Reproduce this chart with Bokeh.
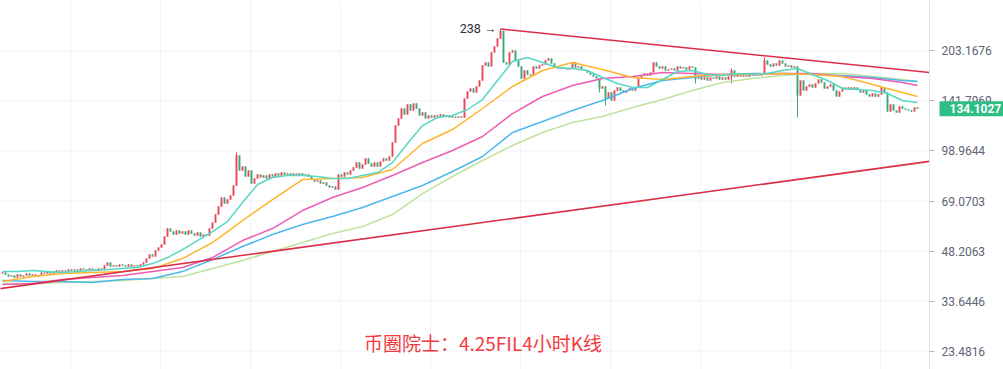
import math
from bokeh.plotting import figure
from bokeh.models import Range1d, FixedTicker, PrintfTickFormatter, Label, ColumnDataSource, Grid
from bokeh.embed import file_html
from bokeh.resources import INLINE

# ---------------- data ----------------
closes = [
    41.28, 40.70, 40.11, 40.40, 39.83, 40.70, 40.11, 40.40, 40.99, 40.40,
    40.70, 40.11, 40.40, 41.28, 40.99, 41.58, 40.99, 41.28, 41.88, 41.58,
    41.88, 41.58, 42.18, 41.88, 42.18, 41.88, 42.48, 42.18, 41.88, 42.48,
    42.18, 41.88, 42.48, 42.18, 43.41, 44.36, 43.10, 43.41, 43.10, 43.72,
    43.41, 43.10, 43.72, 43.10, 43.41, 43.10, 43.72,
    44.36, 45.65, 46.99, 46.32, 48.36, 49.41, 50.50, 53.49, 56.66, 55.45,
    54.27, 55.85, 54.66, 55.45, 54.27, 55.85, 54.66, 53.88, 55.05, 53.49,
    54.27, 53.88, 56.66, 59.15, 62.66, 66.37, 70.81, 67.82, 69.80, 71.84,
    77.20,
    95.81, 86.00, 88.51, 82.37, 86.00, 78.32, 81.19, 83.56, 81.78, 82.96,
    81.19, 83.56, 82.37, 84.16, 82.96, 84.77, 83.56, 84.16, 82.96, 84.16,
    83.56, 84.16, 82.96, 83.56, 82.37, 80.61, 79.46, 80.03, 78.32, 78.89,
    77.20, 76.09, 76.64, 75.01, 83.56, 82.37, 84.77, 83.56, 86.00, 87.88,
    91.10, 87.25, 89.80, 93.76, 90.45, 88.51, 91.10, 88.51, 91.76, 93.76,
    92.42, 95.13, 105.18,
    118.85, 124.99, 134.32, 128.65, 138.26, 132.40, 139.26, 134.32, 127.72, 130.51,
    124.99, 127.72, 125.89, 127.72, 126.81, 128.65, 126.81, 127.72, 125.89, 126.81,
    125.89, 126.81, 125.89, 144.36, 151.80, 155.12, 150.72, 157.36, 164.30, 183.07,
    186.99, 181.75, 200.99, 209.85, 222.28,
    234.50, 186.99, 184.32, 200.99, 203.90, 189.70, 181.75, 166.68, 176.60, 171.59,
    170.36, 181.75, 179.16, 183.07, 184.32, 189.70, 192.45, 185.65, 181.75, 179.16,
    180.45, 179.16, 177.88, 179.16, 186.99, 180.45, 181.75, 177.88, 176.60, 174.08,
    171.59, 169.14, 166.68,
    155.12, 157.36, 144.36, 150.72, 142.30, 152.90, 156.24, 152.90, 150.72, 152.90,
    155.12, 152.90, 156.24, 166.68, 170.36, 172.83, 170.36, 174.08, 186.99, 181.75,
    179.16, 181.75, 176.60, 177.88, 179.16, 176.60, 181.75, 179.16, 180.45, 177.88,
    181.75, 180.45,
    166.68, 170.36, 165.49, 167.88, 164.30, 167.88, 166.68, 169.10, 165.49, 167.88,
    165.49, 169.10, 176.60, 169.10, 171.59, 169.10, 170.36, 169.10, 171.59, 170.36,
    172.83, 170.36, 171.59, 189.70, 184.32, 181.75, 185.65, 183.07, 189.70, 185.65,
    181.75, 183.07, 180.45, 181.75,
    147.50, 164.30, 152.90, 157.36, 159.64, 156.24, 160.79, 165.49, 161.95, 155.12,
    157.36, 159.64, 152.90, 146.44, 151.80, 156.24, 154.00, 156.24, 154.00, 156.24,
    154.00, 150.72, 152.90, 148.56, 146.44, 149.64, 146.44, 148.56, 156.24, 150.72,
    131.45, 138.26, 132.40, 130.51, 136.29, 134.32, 133.36, 132.40, 131.45, 135.31,
    134.1027,
]
first_open = 41.0

wick_index = [78, 166, 199, 201, 231, 243, 254, 265]
wick_high = [97.90, 238.0, 166.68, 157.36, 180.45, 179.16, 193.84, 181.75]
wick_low = [77.20, 222.28, 150.72, 137.27, 160.79, 160.79, 171.59, 125.89]

ma_fast_index = list(range(0, 306, 5))
ma_fast = [
    41.58, 41.58, 41.88, 41.58, 41.28, 41.58, 41.88, 42.18, 42.48, 42.79,
    44.04, 45.99, 48.71, 51.97, 55.45, 59.58, 68.31, 77.76, 81.78, 82.96,
    82.96, 82.37, 81.19, 81.19, 82.96, 84.77, 91.10, 104.42, 118.85, 125.90,
    127.72, 133.38, 143.32, 164.30, 188.34, 193.89, 186.99, 180.39, 179.10, 176.60,
    167.93, 160.79, 156.23, 156.23, 165.53, 175.33, 176.60, 171.59, 170.36, 172.83,
    171.59, 172.83, 176.60, 179.10, 171.59, 164.30, 155.12, 154.00, 152.90, 149.64,
    142.30, 140.27,
]

ma_slow_index = list(range(0, 301, 10)) + [305]
ma_orange = [
    38.69, 40.11, 40.99, 41.28, 41.58, 42.48, 45.66, 51.23, 60.01, 69.80,
    80.61, 81.19, 81.78, 86.63, 104.42, 115.48, 134.35, 157.36, 176.60, 186.99,
    177.81, 167.93, 165.53, 169.14, 171.59, 171.59, 172.83, 171.59, 169.14, 159.64,
    150.72, 146.44,
]
ma_pink = [
    37.87, 38.14, 39.26, 39.82, 40.40, 41.58, 42.79, 45.99, 51.97, 56.66,
    64.49, 70.81, 76.10, 82.96, 91.10, 99.32, 109.86, 129.57, 146.44, 158.50,
    166.73, 169.14, 174.08, 172.83, 171.59, 171.59, 172.83, 172.83, 169.14, 166.73,
    161.95, 158.50,
]
ma_blue = [
    38.97, 38.69, 38.69, 38.41, 39.26, 39.54, 41.58, 45.33, 49.78, 54.27,
    58.31, 61.77, 65.90, 71.33, 77.20, 85.38, 95.13, 113.06, 122.32, 132.40,
    142.30, 155.12, 164.30, 167.93, 171.59, 172.83, 172.83, 171.59, 170.36, 167.93,
    164.30, 163.12,
]
ma_lgreen = [
    38.14, 38.14, 38.41, 38.69, 38.97, 39.54, 40.11, 42.48, 45.00, 48.01,
    51.23, 54.66, 57.48, 62.66, 72.88, 82.37, 92.42, 102.93, 113.06, 121.44,
    126.81, 135.31, 143.32, 152.90, 161.95, 166.73, 170.36, 172.83, 172.83, 169.14,
    165.53, 163.12,
]

resistance_x = [166, 309]
resistance_y = [238.0, 174.08]
support_x = [-1, 309]
support_y = [36.77, 91.83]

price_ticks = [23.4816, 33.6446, 48.2063, 69.0703, 98.9644, 141.7969, 203.1676]
peak_index = 166
peak_value = 238
title_text = "币圈院士：4.25FIL4小时K线"

# ---------------- styling ----------------
UP = "#ea4658"
DOWN = "#3aa878"
GRID = "#eff2f7"

x0, x1 = -0.667, 333.67      # full canvas width
axis_x = 309.0               # right edge of the chart area (price scale line)
y0, y1 = 20.56, 292.1

p = figure(width=1003, height=369, x_range=Range1d(x0, x1), y_range=Range1d(y0, y1),
           y_axis_type="log", y_axis_location="right", x_axis_location=None,
           output_backend="svg", toolbar_location=None,
           background_fill_color="white", border_fill_color="white")
p.min_border = 0
p.outline_line_color = None

yax = p.yaxis[0]
yax.fixed_location = axis_x
yax.ticker = FixedTicker(ticks=price_ticks)
yax.formatter = PrintfTickFormatter(format="%.4f")
yax.axis_line_color = "#e0e3eb"
yax.major_tick_line_color = "#b2b5be"
yax.major_tick_out = 5
yax.major_tick_in = 0
yax.minor_tick_line_color = None
yax.major_label_text_color = "#5d6373"
yax.major_label_text_font = "Roboto"
yax.major_label_text_font_size = "12px"
yax.major_label_standoff = 7

for g in p.ygrid:
    g.visible = False
for g in p.xgrid:
    g.visible = False
vticks = [22.667 + 30 * k for k in range(10)]
p.add_layout(Grid(dimension=0, ticker=FixedTicker(ticks=vticks), grid_line_color=GRID))
# horizontal grid lines only across the chart area (up to the price scale)
p.segment(x0=[x0] * len(price_ticks), x1=[axis_x] * len(price_ticks),
          y0=price_ticks, y1=price_ticks, line_color=GRID, line_width=1)

# candles
n = len(closes)
opens = [first_open] + closes[:-1]
idx = list(range(n))
tops = [max(o, c) for o, c in zip(opens, closes)]
bots = [min(o, c) for o, c in zip(opens, closes)]
cols = [UP if c >= o else DOWN for o, c in zip(opens, closes)]
src = ColumnDataSource(dict(x=idx, top=tops, bottom=bots, color=cols))
p.vbar(x="x", width=0.45, top="top", bottom="bottom", fill_color="color",
       line_color="color", line_width=0.5, source=src)

wcols = [cols[i] for i in wick_index]
p.segment(x0=wick_index, y0=wick_low, x1=wick_index, y1=wick_high, line_color=wcols, line_width=1)

# moving averages
p.line(ma_slow_index, ma_lgreen, line_color="#bfe39c", line_width=1.5)
p.line(ma_slow_index, ma_blue, line_color="#4db8ee", line_width=1.5)
p.line(ma_slow_index, ma_pink, line_color="#ee5cb4", line_width=1.5)
p.line(ma_slow_index, ma_orange, line_color="#fdb52f", line_width=1.5)
p.line(ma_fast_index, ma_fast, line_color="#55d8c4", line_width=1.5)

# trend lines
p.line(resistance_x, resistance_y, line_color="#dc2f45", line_width=1.6)
p.line(support_x, support_y, line_color="#dc2f45", line_width=1.6)

# annotations
p.add_layout(Label(x=peak_index, y=peak_value, text=f"{peak_value} →", text_align="right",
                   text_baseline="middle", x_offset=-4, text_font="Roboto",
                   text_font_size="12.5px", text_color="#2a2e39"))

last = closes[-1]
p.add_layout(Label(x=axis_x, y=last, text=f"{last:.4f}", text_align="left", text_baseline="middle",
                   x_offset=10, text_font="Roboto", text_font_size="12px", text_font_style="bold",
                   text_color="white", background_fill_color="#2ebd85", padding=(10, 3)))

fx, fy = 482.5 / 1003, 0.0732
tx = x0 + fx * (x1 - x0)
ty = 10 ** (math.log10(y0) + fy * (math.log10(y1) - math.log10(y0)))
p.add_layout(Label(x=tx, y=ty, text=title_text, text_align="center", text_baseline="middle",
                   text_font="Noto Sans CJK SC", text_font_size="19px", text_color="#f23b41"))

open("out.html", "w").write(file_html(p, INLINE))
